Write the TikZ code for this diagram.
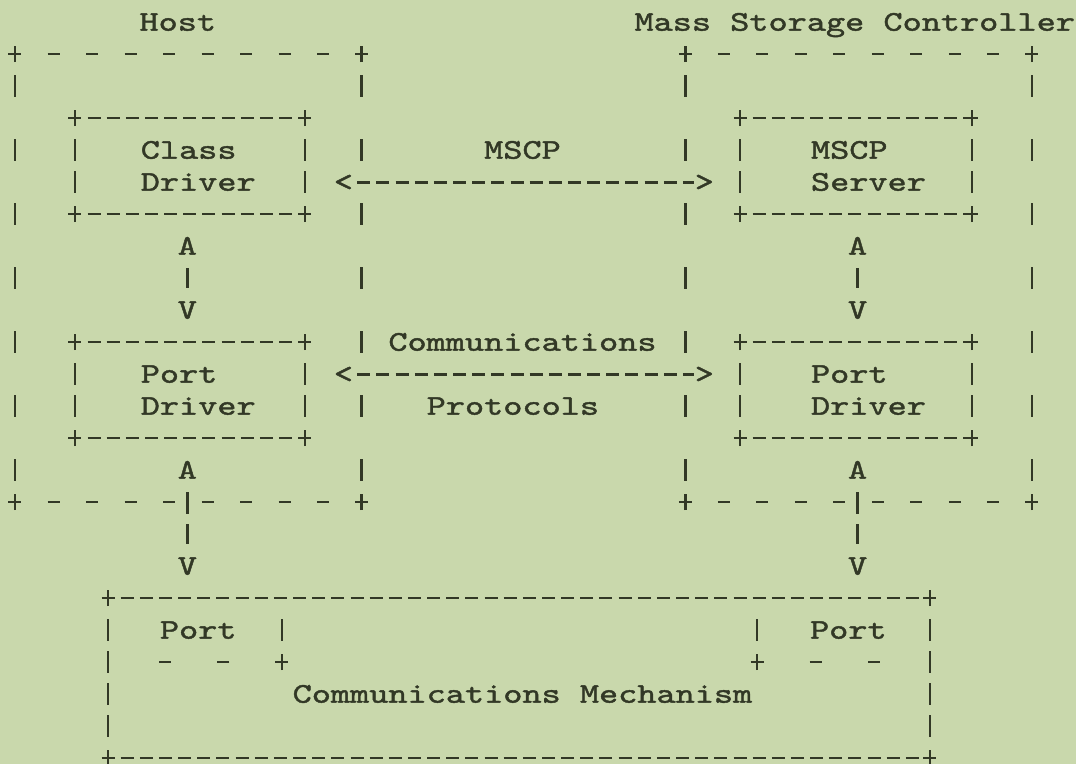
\documentclass[tikz,border=0pt]{standalone}
\usepackage{fontspec}
\newfontfamily\asciifont{lmmono10-regular.otf}[FakeStretch=1.28,FakeBold=1.5]
\definecolor{paper}{RGB}{201,216,172}
\definecolor{ink}{RGB}{50,56,38}

\begin{document}
\begin{tikzpicture}[x=19.15pt, y=-32pt, line width=2.6pt, draw=ink,
        every node/.style={inner sep=0pt, text=ink,
          font=\asciifont\fontsize{28.5}{32}\selectfont},
        typed/.style={anchor=base, yshift=-8.7pt},
        typedw/.style={anchor=base west, yshift=-8.7pt},
        dashrow/.style={dash pattern=on 13pt off 6.15pt, dash phase=13.5pt,
          shorten <=7pt, shorten >=7pt},
        dashcol/.style={dash pattern=on 22pt off 10pt, dash phase=23pt,
          shorten <=12pt, shorten >=12pt},
        gaprow/.style={dash pattern=on 12pt off 26.5pt, dash phase=13pt,
          shorten <=7pt, shorten >=7pt},
        gapcol/.style={dash pattern=on 22pt off 42pt, dash phase=55pt,
          shorten <=12pt, shorten >=12pt},
        portrow/.style={dash pattern=on 12pt off 46.5pt, dash phase=13pt,
          shorten <=7pt, shorten >=7pt},
        updown/.style={dash pattern=on 22pt off 10pt,
          shorten <=12pt, shorten >=12pt},
        across/.style={dash pattern=on 13pt off 6.15pt, dash phase=16.1pt}]

        \fill[paper] (-0.7833,-0.6875) rectangle (55.405,23.1875);
        \useasboundingbox (-0.7833,-0.6875) rectangle (55.405,23.1875);

        % host and controller frames
        \coordinate (H1) at (0,1);
        \coordinate (H2) at (18.1,1);
        \coordinate (H3) at (18.1,15);
        \coordinate (H4) at (0,15);

        \coordinate (C1) at (35,1);
        \coordinate (C2) at (53.1,1);
        \coordinate (C3) at (53.1,15);
        \coordinate (C4) at (35,15);

        % driver and server boxes
        \coordinate (CD1) at (3.13,3);
        \coordinate (CD2) at (15.14,3);
        \coordinate (CD3) at (15.14,6);
        \coordinate (CD4) at (3.13,6);

        \coordinate (HP1) at (3.13,10);
        \coordinate (HP2) at (15.14,10);
        \coordinate (HP3) at (15.14,13);
        \coordinate (HP4) at (3.13,13);

        \coordinate (MS1) at (37.86,3);
        \coordinate (MS2) at (49.97,3);
        \coordinate (MS3) at (49.97,6);
        \coordinate (MS4) at (37.86,6);

        \coordinate (CP1) at (37.86,10);
        \coordinate (CP2) at (49.97,10);
        \coordinate (CP3) at (49.97,13);
        \coordinate (CP4) at (37.86,13);

        % communications mechanism
        \coordinate (M1) at (4.86,18);
        \coordinate (M2) at (47.78,18);
        \coordinate (M3) at (47.78,23);
        \coordinate (M4) at (4.86,23);
        \coordinate (LT) at (13.94,18);
        \coordinate (LP) at (13.94,20);
        \coordinate (RT) at (38.75,18);
        \coordinate (RP) at (38.75,20);

        \draw[gaprow] (H1)--(H2);
        \draw[gaprow] (H4)--(H3);
        \draw[gapcol] (H1)--(H4);
        \draw[gapcol] (H2)--(H3);

        \draw[gaprow] (C1)--(C2);
        \draw[gaprow] (C4)--(C3);
        \draw[gapcol] (C1)--(C4);
        \draw[gapcol] (C2)--(C3);

        \draw[dashrow] (CD1)--(CD2);
        \draw[dashrow] (CD4)--(CD3);
        \draw[dashcol] (CD1)--(CD4);
        \draw[dashcol] (CD2)--(CD3);

        \draw[dashrow] (HP1)--(HP2);
        \draw[dashrow] (HP4)--(HP3);
        \draw[dashcol] (HP1)--(HP4);
        \draw[dashcol] (HP2)--(HP3);

        \draw[dashrow] (MS1)--(MS2);
        \draw[dashrow] (MS4)--(MS3);
        \draw[dashcol] (MS1)--(MS4);
        \draw[dashcol] (MS2)--(MS3);

        \draw[dashrow] (CP1)--(CP2);
        \draw[dashrow] (CP4)--(CP3);
        \draw[dashcol] (CP1)--(CP4);
        \draw[dashcol] (CP2)--(CP3);

        \draw[dashrow] (M1)--(M2);
        \draw[dashrow] (M4)--(M3);
        \draw[dashcol] (M1)--(M4);
        \draw[dashcol] (M2)--(M3);
        \draw[dashcol] (LT)--(LP);
        \draw[portrow] (LP)--(LP -| M4);
        \draw[dashcol] (RT)--(RP);
        \draw[portrow] (RP)--(RP -| M2);

        % corner crosses
        \foreach \c in {H1,H2,H3,H4,C1,C2,C3,C4,CD1,CD2,CD3,CD4,
            HP1,HP2,HP3,HP4,MS1,MS2,MS3,MS4,CP1,CP2,CP3,CP4,
            M1,M2,M3,M4,LP,RP}
          \draw (\c) +(-6.5pt,0) -- +(6.5pt,0) +(0,-8pt) -- +(0,8pt);

        % texts
        \node[typed] (host) at (8.5,0) {Host};
        \node[typed] (msc) at (43.85,0) {Mass Storage Controller};

        \node[typedw] (class) at (6.5,4) {Class};
        \node[typedw] (cdrv) at (6.5,5) {Driver};
        \node[typedw] (hport) at (6.5,11) {Port};
        \node[typedw] (hpdrv) at (6.5,12) {Driver};

        \node[typedw] (smscp) at (41.5,4) {MSCP};
        \node[typedw] (server) at (41.5,5) {Server};
        \node[typedw] (cport) at (41.5,11) {Port};
        \node[typedw] (cpdrv) at (41.5,12) {Driver};

        \node[typed] (mscp) at (26.5,4) {MSCP};
        \node[typed] (comm) at (26.5,10) {Communications};
        \node[typed] (proto) at (26,12) {Protocols};

        \node[typedw] (lport) at (7.5,19) {Port};
        \node[typedw] (rport) at (41.45,19) {Port};
        \node[typed] (mech) at (26.5,21) {Communications Mechanism};

        % up and down links
        \node[typed] (hA1) at (9,7) {A};
        \node[typed] (hV1) at (9,9) {V};
        \node[typed] (cA1) at (44,7) {A};
        \node[typed] (cV1) at (44,9) {V};
        \node[typed] (hA2) at (9,14) {A};
        \node[typed] (hV2) at (9,17) {V};
        \node[typed] (cA2) at (44,14) {A};
        \node[typed] (cV2) at (44,17) {V};

        \draw[updown] (hA1)--(hV1);
        \draw[updown] (cA1)--(cV1);
        \draw[updown] (hA2)--(hV2);
        \draw[updown] (cA2)--(cV2);

        % peer links
        \node[typed] (lt1) at (17.15,5) {<};
        \node[typed] (gt1) at (36,5) {>};
        \node[typed] (lt2) at (17.15,11) {<};
        \node[typed] (gt2) at (36,11) {>};

        \draw[across] (lt1)--(gt1);
        \draw[across] (lt2)--(gt2);
      \end{tikzpicture}
\end{document}
